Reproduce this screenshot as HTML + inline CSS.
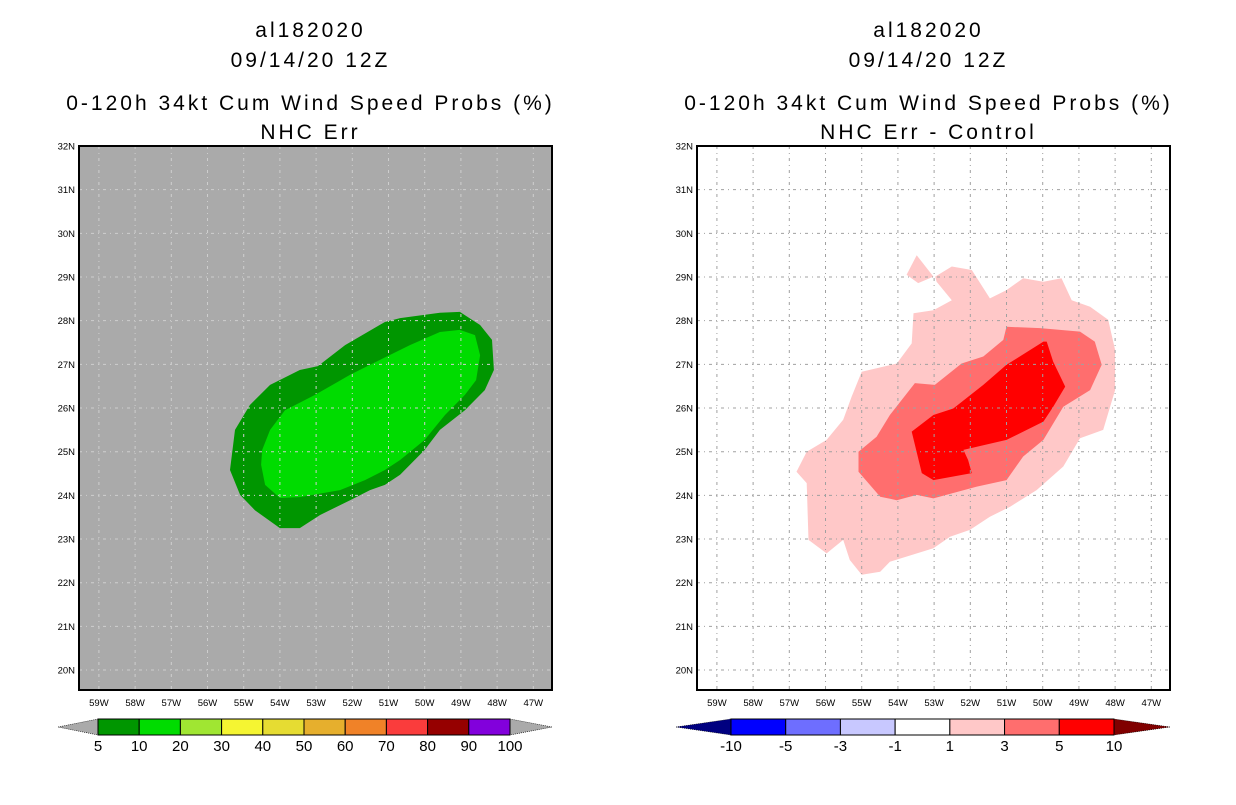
<!DOCTYPE html>
<html><head><meta charset="utf-8"><style>
body{margin:0;background:#fff;width:1236px;height:800px;overflow:hidden}
svg text{font-family:"Liberation Sans",sans-serif}
</style></head><body>
<svg id="c" width="1236" height="800" xmlns="http://www.w3.org/2000/svg"></svg>
<script>
const latTicks=[32,31,30,29,28,27,26,25,24,23,22,21,20];
const lonTicks=[59,58,57,56,55,54,53,52,51,50,49,48,47];
// left panel contours (lonW, latN)
const probOuterLon=[55.38,55.24,54.83,54.27,53.45,52.95,52.20,51.10,50.68,49.58,49.03,48.47,48.14,48.09,48.34,48.89,49.58,50.00,50.68,51.10,51.51,52.06,52.89,53.45,54.00,54.69,55.10];
const probOuterLat=[24.58,25.50,26.07,26.53,26.87,26.96,27.44,27.97,28.06,28.18,28.20,27.90,27.56,26.87,26.41,25.95,25.50,25.04,24.47,24.24,24.12,23.89,23.55,23.25,23.25,23.66,24.01];
const probInnerLon=[54.49,54.27,53.86,53.03,52.06,51.24,50.41,49.58,49.03,48.61,48.47,48.58,48.89,49.44,50.00,50.68,51.10,51.65,52.34,53.45,54.00,54.41,54.52];
const probInnerLat=[25.04,25.50,25.95,26.30,26.76,27.10,27.44,27.74,27.79,27.67,27.21,26.64,26.30,25.84,25.27,24.81,24.58,24.35,24.12,23.96,23.94,24.24,24.70];
// right panel difference contours
const diff1Lon=[56.80,56.52,55.97,55.51,55.28,55.00,54.03,53.62,53.57,53.02,52.51,52.93,52.97,52.51,51.96,51.46,51.00,50.54,49.98,49.48,49.20,48.69,48.19,48.00,48.00,48.33,48.97,49.43,50.17,50.90,51.46,52.01,52.56,53.02,54.22,54.49,55.00,55.33,55.51,55.97,56.47,56.52];
const diff1Lat=[24.54,25.00,25.27,25.73,26.26,26.83,27.02,27.48,28.17,28.24,28.47,28.89,29.01,29.24,29.16,28.51,28.70,28.97,28.89,28.97,28.47,28.32,28.02,27.33,26.41,25.50,25.31,24.66,24.12,23.74,23.51,23.21,23.05,22.79,22.48,22.25,22.18,22.52,22.98,22.67,22.98,24.28];
const islandLon=[53.48,53.02,53.44,53.76];
const islandLat=[29.50,29.01,28.86,29.05];
const diff3Lon=[55.09,54.59,54.22,53.53,52.98,52.24,51.64,51.09,51.00,50.07,48.97,48.56,48.37,48.69,49.43,49.98,50.54,51.00,51.82,53.02,53.48,54.03,54.49,55.09];
const diff3Lat=[25.00,25.34,25.84,26.57,26.53,27.02,27.18,27.56,27.86,27.83,27.75,27.52,26.99,26.41,26.03,25.27,24.89,24.35,24.20,23.93,24.01,23.89,23.97,24.54];
const diff5Lon=[53.62,53.02,52.47,51.64,51.00,49.98,49.89,49.71,49.38,49.71,49.98,51.00,52.19,52.06,51.96,53.02,53.34];
const diff5Lat=[25.46,25.84,25.99,26.53,26.99,27.52,27.52,27.06,26.49,26.03,25.69,25.27,25.04,24.81,24.51,24.35,24.51];
const probLabels=["5","10","20","30","40","50","60","70","80","90","100"];
const probColors=["#009600","#00dc00","#a0e632","#f5f532","#e6dc32","#e6af2d","#f08228","#fa3c3c","#960000","#8200dc"];
const diffLabels=["-10","-5","-3","-1","1","3","5","10"];
const diffColors=["#0000ff","#6e6eff","#c8c8ff","#ffffff","#ffc8c8","#ff6e6e","#ff0000"];

const NS="http://www.w3.org/2000/svg";
const svg=document.getElementById('c');
function mk(t,a,p){const e=document.createElementNS(NS,t);for(const k in a)e.setAttribute(k,a[k]);(p||svg).appendChild(e);return e;}
const W0=79,PW=473,T=146,PH=544;
function xS(off,lon){return off+W0+(59.55-lon)*36.2;}
function yS(lat){return T+(32-lat)*43.67;}
function poly(off,lons,lats,fill,name,g){
  const pts=lons.map((l,i)=>xS(off,l).toFixed(1)+','+yS(lats[i]).toFixed(1)).join(' ');
  const e=mk('polygon',{points:pts,fill:fill},g);
  
  
}
function panel(off,bg,gridCol,sub,name){
  const g=mk('g',{});
  
  
  const cx=off+310.5;
  [["al182020",37],["09/14/20 12Z",67],["0-120h 34kt Cum Wind Speed Probs (%)",110],[sub,139]].forEach((t,i)=>{
    const e=mk('text',{x:cx,y:t[1],'text-anchor':'middle','font-size':'21','letter-spacing':'3'},g);e.textContent=t[0];
    
    
  });
  const bgr=mk('rect',{x:off+W0,y:T,width:PW,height:PH,fill:bg},g);
  
  
  const cg=mk('g',{},g);
  if(off===0){
    poly(off,probOuterLon,probOuterLat,"#009600","contour-5-10",cg);
    poly(off,probInnerLon,probInnerLat,"#00dc00","contour-10-20",cg);
  }else{
    poly(off,diff1Lon,diff1Lat,"#ffc8c8","contour-1-3",cg);
    poly(off,islandLon,islandLat,"#ffc8c8","contour-1-3-island",cg);
    poly(off,diff3Lon,diff3Lat,"#ff6e6e","contour-3-5",cg);
    poly(off,diff5Lon,diff5Lat,"#ff0000","contour-5-10",cg);
  }
  latTicks.forEach(l=>{
    const y=yS(l);
    if(l<32){const ln=mk('line',{x1:off+W0,x2:off+W0+PW,y1:y,y2:y,stroke:gridCol,'stroke-width':1,'stroke-dasharray':'3,4,1,4'},g);
    
    }
    const t=mk('text',{x:off+W0-4,y:y+3.5,'text-anchor':'end','font-size':'9.5'},g);t.textContent=l+'N';
    
    
  });
  lonTicks.forEach(l=>{
    const x=xS(off,l);
    const ln=mk('line',{x1:x,x2:x,y1:T,y2:T+PH,stroke:gridCol,'stroke-width':1,'stroke-dasharray':'3,4,1,4'},g);
    
    
    const t=mk('text',{x:x,y:T+PH+16,'text-anchor':'middle','font-size':'9.5'},g);t.textContent=l+'W';
    
    
  });
  const fr=mk('rect',{x:off+W0,y:T,width:PW,height:PH,fill:'none',stroke:'#000','stroke-width':2},g);
  
  
}
panel(0,"#aaaaaa","#cfcfcf","NHC Err","left-panel");
panel(618,"#ffffff","#a0a0a0","NHC Err - Control","right-panel");

function colorbar(x0,x1,triL,triR,labels,colors,lcol,rcol,name){
  const g=mk('g',{});
  
  
  const y0=719,y1=735,ym=727,n=colors.length,w=(x1-x0)/n;
  const tl=mk('polygon',{points:`${triL},${ym} ${x0},${y0} ${x0},${y1}`,fill:lcol,stroke:'#000','stroke-width':0.6,'stroke-dasharray':'1,1'},g);
  
  
  const tr=mk('polygon',{points:`${triR},${ym} ${x1},${y0} ${x1},${y1}`,fill:rcol,stroke:'#000','stroke-width':0.6,'stroke-dasharray':'1,1'},g);
  
  
  colors.forEach((c,i)=>{
    const r=mk('rect',{x:x0+i*w,y:y0,width:w,height:y1-y0,fill:c,stroke:'#000','stroke-width':1},g);
    
    
  });
  labels.forEach((l,i)=>{
    const t=mk('text',{x:x0+i*w,y:751,'text-anchor':'middle','font-size':'15'},g);t.textContent=l;
    
    
  });
}
colorbar(98,510,58,552,probLabels,probColors,"#aaaaaa","#aaaaaa","prob-colorbar");
colorbar(731,1114,676,1170,diffLabels,diffColors,"#000080","#800000","diff-colorbar");
</script>
</body></html>
